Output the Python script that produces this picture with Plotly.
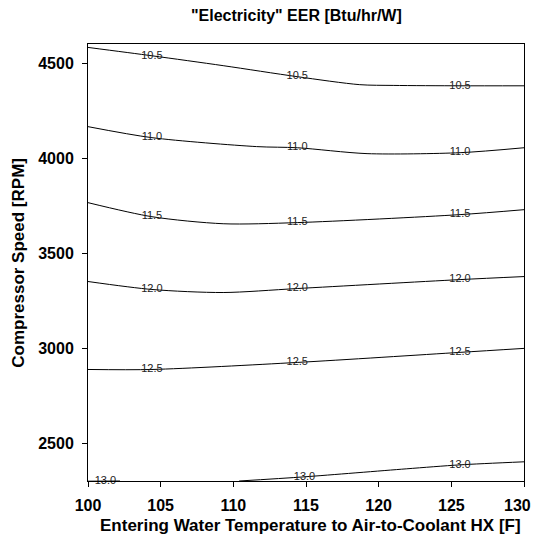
import plotly.graph_objects as go

# Contour levels of EER [Btu/hr/W]
levels = ["10.5", "11.0", "11.5", "12.0", "12.5", "13.0"]

# Contour line traces: entering water temperature [F] and compressor speed [RPM]
c105_x = [100, 104.4, 109.3, 114.4, 118.7, 121.0, 125.6, 130]
c105_y = [4582, 4538, 4486, 4428, 4386, 4382, 4380, 4380]

c110_x = [100, 104.4, 111.6, 114.4, 119.2, 125.6, 130]
c110_y = [4165, 4107, 4060, 4054, 4023, 4028, 4054]

c115_x = [100, 104.4, 109.3, 114.4, 125.6, 130]
c115_y = [3765, 3691, 3654, 3660, 3702, 3728]

c120_x = [100, 104.4, 109.3, 114.4, 125.6, 130]
c120_y = [3350, 3308, 3292, 3313, 3360, 3376]

c125_x = [100, 104.4, 114.4, 125.6, 130]
c125_y = [2887, 2887, 2924, 2977, 2998]

c130_x = [110.4, 114.9, 121.9, 125.6, 130]
c130_y = [2300, 2322, 2364, 2385, 2401]

c130b_x = [100, 102.2]
c130b_y = [2299, 2300]

# Inline label positions for each level
lab_text = ["10.5", "10.5", "10.5",
            "11.0", "11.0", "11.0",
            "11.5", "11.5", "11.5",
            "12.0", "12.0", "12.0",
            "12.5", "12.5", "12.5",
            "13.0", "13.0", "13.0"]
lab_x = [104.4, 114.4, 125.6,
         104.4, 114.4, 125.6,
         104.4, 114.4, 125.6,
         104.4, 114.4, 125.6,
         104.4, 114.4, 125.6,
         101.2, 114.9, 125.6]
lab_y = [4538, 4428, 4380,
         4107, 4054, 4028,
         3691, 3660, 3702,
         3308, 3313, 3360,
         2887, 2924, 2977,
         2300, 2322, 2385]

x_ticks = [100, 105, 110, 115, 120, 125, 130]
x_ticktext = ["100", "105", "110", "115", "120", "125", "130"]
y_ticks = [2500, 3000, 3500, 4000, 4500]

FONT = "Liberation Sans, Arial"
NB = "\u00a0"

fig = go.Figure()
for xs, ys in [(c105_x, c105_y), (c110_x, c110_y), (c115_x, c115_y),
               (c120_x, c120_y), (c125_x, c125_y), (c130_x, c130_y),
               (c130b_x, c130b_y)]:
    fig.add_trace(go.Scatter(x=xs, y=ys, mode="lines",
                             line=dict(color="black", width=1, shape="spline", smoothing=0.8),
                             hoverinfo="skip", showlegend=False))

fig.add_trace(go.Scatter(x=lab_x, y=lab_y, mode="text", text=lab_text,
                         textposition="middle center",
                         textfont=dict(family=FONT, size=11, color="#222"),
                         showlegend=False, hoverinfo="skip", cliponaxis=False))

# last x tick label sits slightly inside the page edge, as in the reference
x_labels = ["<b>%s</b>" % t for t in x_ticktext]
x_labels[-1] = x_labels[-1] + NB * 3

axis_font = dict(family=FONT, size=16, color="black")
# page body has an 8px margin, so the figure is placed at (8, 8)
fig.update_layout(
    width=531, height=533,
    margin=dict(l=80, r=15, t=36, b=60),
    paper_bgcolor="white", plot_bgcolor="white",
    font=dict(family=FONT),
    annotations=[
        dict(text='<b>"Electricity" EER [Btu/hr/W]</b>', xref="paper", yref="paper",
             x=0.479, y=1.066, xanchor="center", yanchor="middle", showarrow=False,
             font=dict(family=FONT, size=16, color="black")),
        dict(text="<b>Entering Water Temperature to Air-to-Coolant HX [F]</b>",
             xref="paper", yref="paper", x=0.511, y=-0.101, xanchor="center",
             yanchor="middle", showarrow=False,
             font=dict(family=FONT, size=17, color="black")),
        dict(text="<b>Compressor Speed [RPM]</b>", xref="paper", yref="paper",
             x=-0.160, y=0.5, xanchor="center", yanchor="middle", textangle=-90,
             showarrow=False, font=dict(family=FONT, size=17, color="black")),
    ],
)
fig.update_xaxes(range=[100, 130], tickvals=x_ticks, ticktext=x_labels,
                 ticks="outside", ticklen=5, tickcolor="black", tickwidth=1,
                 showline=True, linecolor="black", linewidth=1, mirror=True,
                 showgrid=False, zeroline=False, tickfont=axis_font,
                 automargin=False, ticklabelstandoff=5, ticklabeloverflow="allow")
fig.update_yaxes(range=[2300, 4600], tickvals=y_ticks,
                 ticktext=["<b>%d</b>" % v for v in y_ticks],
                 ticks="outside", ticklen=5, tickcolor="black", tickwidth=1,
                 showline=True, linecolor="black", linewidth=1, mirror=True,
                 showgrid=False, zeroline=False, tickfont=axis_font,
                 automargin=False, ticklabelstandoff=5)

fig.write_html("out.html")
